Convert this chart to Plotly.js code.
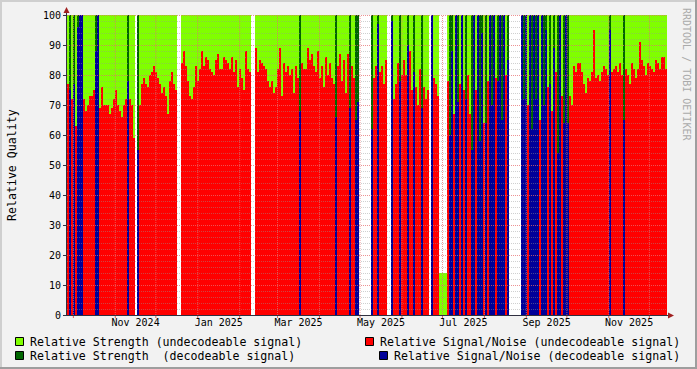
<!DOCTYPE html>
<html><head><meta charset="utf-8">
<script src="https://cdn.plot.ly/plotly-3.0.1.min.js"></script>
<style>html,body{margin:0;padding:0;background:#f2f2f2}#chart{width:697px;height:369px}</style>
</head><body><div id="chart"></div>
<script>
// ---- data ----
const startTime = '2024-09-26T07:00:00Z';
const stepHours = 35.5;
// u = undecodeable, d = decodeable, - = no data
const decodeMode = (
  "udududdduu" + "uuuudduuuu" + "uuuuuuuuuu" + "duuu-duuuu" + "uuuuuuuuuu" +
  "uuuuu--uuu" + "uuuuuuuuuu" + "uuuuuuuuuu" + "uuuuuuuuuu" + "uu--uuuuuu" +
  "uuuuuuuuuu" + "uuuuuuduuu" + "uuuuuuuuuu" + "uuuuduuuuu" + "uduudd----" +
  "--duuduuuu" + "--duuuduuu" + "duuduuuduu" + "u-duuuuuuu" + "udduddudud" +
  "uuddudddud" + "uddduddddu" + "d------ddd" + "uddddduddd" + "udududdudd" +
  "duuuuuuuuu" + "uuuuuuuuuu" + "uduuuuuudu" + "uuuuuuuuuu" + "uuuuuuuuuu"
).split('');
const signalNoise = [
  77,75,72,77,63,96,100,100,72,68,
  70,73,73,75,88,100,69,76,70,70,
  70,67,69,72,75,70,68,66,70,72,
  78,72,70,59,null,55,70,77,79,77,
  76,80,81,83,81,79,77,74,76,73,
  67,78,81,77,75,null,null,84,88,83,
  78,73,72,76,83,78,82,88,83,86,
  85,82,81,80,85,87,82,82,86,85,
  84,82,86,81,85,76,82,79,75,88,
  82,81,null,null,89,81,85,84,83,82,
  78,76,78,74,76,82,89,73,84,81,
  83,80,82,74,83,79,68,84,82,82,
  89,85,87,83,81,88,79,83,76,86,
  80,84,79,77,66,83,87,78,85,74,
  87,69,83,79,65,71,null,null,null,null,
  null,null,62,79,83,97,81,83,77,85,
  null,null,98,72,77,84,78,80,85,80,
  90,88,75,81,76,70,82,69,76,72,
  75,null,100,79,77,73,0,0,0,0,
  78,60,88,67,100,71,77,100,75,72,
  80,67,55,100,75,100,58,94,64,64,
  78,100,70,100,79,78,100,65,100,80,
  85,null,null,null,null,null,null,100,72,100,
  70,100,62,100,72,100,65,100,70,95,
  76,77,68,89,81,54,100,73,64,100,
  64,73,70,83,81,84,84,81,77,74,
  79,78,81,95,79,80,78,81,83,82,
  80,95,81,82,83,81,84,80,65,82,
  80,77,84,82,79,82,91,85,83,80,
  84,83,82,81,85,84,82,86,86,82
];
const strength = [
  100,100,100,100,100,100,100,100,100,100,
  100,100,100,100,100,100,100,100,100,100,
  100,100,100,100,100,100,100,100,100,100,
  100,100,100,100,null,100,100,100,100,100,
  100,100,100,100,100,100,100,100,100,100,
  100,100,100,100,100,null,null,100,100,100,
  100,100,100,100,100,100,100,100,100,100,
  100,100,100,100,100,100,100,100,100,100,
  100,100,100,100,100,100,100,100,100,100,
  100,100,null,null,100,100,100,100,100,100,
  100,100,100,100,100,100,100,100,100,100,
  100,100,100,100,100,100,100,100,100,100,
  100,100,100,100,100,100,100,100,100,100,
  100,100,100,100,100,100,100,100,100,100,
  100,100,100,100,100,100,null,null,null,null,
  null,null,100,100,100,100,100,100,100,100,
  null,null,100,100,100,100,100,100,100,100,
  100,100,100,100,100,100,100,100,100,100,
  100,null,100,100,100,100,14,14,14,14,
  100,100,100,100,100,100,100,100,100,100,
  100,100,100,100,100,100,100,100,100,100,
  100,100,100,100,100,100,100,100,100,100,
  100,null,null,null,null,null,null,100,100,100,
  100,100,100,100,100,100,100,100,100,100,
  100,100,100,100,100,100,100,100,100,100,
  100,100,100,100,100,100,100,100,100,100,
  100,100,100,100,100,100,100,100,100,100,
  100,100,100,100,100,100,100,100,100,100,
  100,100,100,100,100,100,100,100,100,100,
  100,100,100,100,100,100,100,100,100,100
];
const seriesNames = [
  'Relative Strength (undecodeable signal)',
  'Relative Strength\u00A0 (decodeable signal)',
  'Relative Signal/Noise (undecodeable signal)',
  'Relative Signal/Noise (decodeable signal)'
];
const seriesColors = ['#80ff00', '#006600', '#ff0000', '#000099'];
const monthGrid = ['2024-10-01','2024-11-01','2024-12-01','2025-01-01','2025-02-01','2025-03-01',
  '2025-04-01','2025-05-01','2025-06-01','2025-07-01','2025-08-01','2025-09-01','2025-10-01',
  '2025-11-01','2025-12-01'];
const labelMonths = [[2024,11],[2025,1],[2025,3],[2025,5],[2025,7],[2025,9],[2025,11]];
const labelText = ['Nov 2024','Jan 2025','Mar 2025','May 2025','Jul 2025','Sep 2025','Nov 2025'];
const yTicks = [0,10,20,30,40,50,60,70,80,90,100];

// ---- build ----
const startMs = Date.parse(startTime);
const stepMs = stepHours * 3600e3;
const n = signalNoise.length;
const iso = ms => new Date(ms).toISOString().slice(0,19).replace('T',' ');
const xs = signalNoise.map((_, i) => iso(startMs + (i + 0.5) * stepMs));
const pick = (vals, m) => vals.map((v, i) => decodeMode[i] === m ? v : null);

const series = [pick(strength,'u'), pick(strength,'d'), pick(signalNoise,'u'), pick(signalNoise,'d')];
const traces = series.map((ys, k) => ({
  type: 'bar', x: xs, y: ys, width: stepMs, name: seriesNames[k],
  marker: {color: seriesColors[k], line: {width: 0}}, hoverinfo: 'skip'
}));

const labelPos = labelMonths.map(([y, m]) => iso((Date.UTC(y, m-1, 1) + Date.UTC(y, m, 1)) / 2));

// pixel -> paper helpers (plot area: x 67..667, y 15..315)
const PL = 67, PT = 15, PW = 600, PH = 300;
const px = x => (x - PL) / PW;
const py = y => (PT + PH - y) / PH;

const shapes = [];
// horizontal grid
for (let v = 2; v <= 100; v += 2) {
  const major = v % 10 === 0;
  shapes.push({type:'line', xref:'paper', yref:'y', x0:0, x1:1, y0:v - 1/6, y1:v - 1/6, layer:'above',
    line:{color: major ? 'rgba(230,110,110,0.75)' : 'rgba(150,150,150,0.45)', width:1, dash:'1px,1px'}});
}
// vertical grid at month starts
monthGrid.forEach(d => {
  shapes.push({type:'line', xref:'x', yref:'paper', x0:d, x1:d, y0:0, y1:1, layer:'above',
    line:{color:'rgba(230,110,110,0.75)', width:1, dash:'1px,1px'}});
  shapes.push({type:'line', xref:'x', yref:'paper', x0:d, x1:d, y0:py(315), y1:py(318), layer:'above',
    line:{color:'#d06060', width:1}});
});
// axes
shapes.push({type:'line', xref:'paper', yref:'paper', x0:px(66.5), x1:px(66.5), y0:py(315), y1:py(10), layer:'above', line:{color:'#303040', width:1}});
shapes.push({type:'line', xref:'paper', yref:'paper', x0:px(63), x1:px(670), y0:py(315.5), y1:py(315.5), layer:'above', line:{color:'#303040', width:1}});
// arrows
const path = pts => 'M' + pts.map(p => px(p[0]) + ',' + py(p[1])).join(' L') + ' Z';
shapes.push({type:'path', xref:'paper', yref:'paper', path: path([[66.5,7],[63.5,13],[69.5,13]]), fillcolor:'#a02020', line:{width:0}, layer:'above'});
shapes.push({type:'path', xref:'paper', yref:'paper', path: path([[674,315.5],[668,312.5],[668,318.5]]), fillcolor:'#a02020', line:{width:0}, layer:'above'});
// frame shading
const rect = (x0,y0,x1,y1,c) => ({type:'rect', xref:'paper', yref:'paper', x0:px(x0), x1:px(x1), y0:py(y1), y1:py(y0), fillcolor:c, line:{width:0}, layer:'above'});
shapes.push(rect(0,0,697,2,'#cfcfcf'));
shapes.push(rect(0,0,2,369,'#cfcfcf'));
shapes.push(rect(0,367,697,369,'#9e9e9e'));
shapes.push(rect(695,0,697,369,'#9e9e9e'));
// legend squares
const legendPos = [[15,337,30],[15,351,30],[365,337,380],[379,351,394]];
legendPos.forEach((p, k) => {
  shapes.push({type:'rect', xref:'paper', yref:'paper', x0:px(p[0]+0.5), x1:px(p[0]+8.5), y0:py(p[1]+8.5), y1:py(p[1]+0.5),
    fillcolor: seriesColors[k], line:{color:'#000', width:1}, layer:'above'});
});

const mono = 'DejaVu Sans Mono, monospace';
const annotations = seriesNames.map((t, k) => ({
  xref:'paper', yref:'paper', x: px(legendPos[k][2] - 2), y: py(legendPos[k][1] + 4.5),
  xanchor:'left', yanchor:'middle', text: t, showarrow:false, font:{family:mono, size:11.6, color:'#000'}
}));
annotations.push({xref:'paper', yref:'paper', x: px(12), y: py(165), text:'Relative Quality', textangle:-90,
  showarrow:false, xanchor:'center', yanchor:'middle', font:{family:mono, size:11.6, color:'#000'}});
annotations.push({xref:'paper', yref:'paper', x: px(687), y: py(74), text:'RRDTOOL / TOBI OETIKER', textangle:90,
  showarrow:false, xanchor:'center', yanchor:'middle', font:{family:mono, size:10, color:'#aaaaaa'}});

const layout = {
  width: 697, height: 369,
  margin: {l: PL, r: 697 - PL - PW, t: PT, b: 369 - PT - PH, pad: 0},
  paper_bgcolor: '#f2f2f2', plot_bgcolor: '#ffffff',
  barmode: 'overlay', bargap: 0, showlegend: false,
  xaxis: {type:'date', range:[iso(startMs), iso(startMs + n * stepMs)], tickmode:'array',
    tickvals: labelPos, ticktext: labelText, ticks:'', showgrid:false, zeroline:false, showline:false,
    tickfont:{family:mono, size:10, color:'#000'}, fixedrange:true},
  yaxis: {range:[0,100], tickmode:'array', tickvals: yTicks, ticks:'outside', ticklen:3, tickcolor:'#303040',
    showgrid:false, zeroline:false, showline:false, tickfont:{family:mono, size:10, color:'#000'}, fixedrange:true},
  shapes: shapes, annotations: annotations
};
Plotly.newPlot('chart', traces, layout, {staticPlot:true, displayModeBar:false});
</script></body></html>
